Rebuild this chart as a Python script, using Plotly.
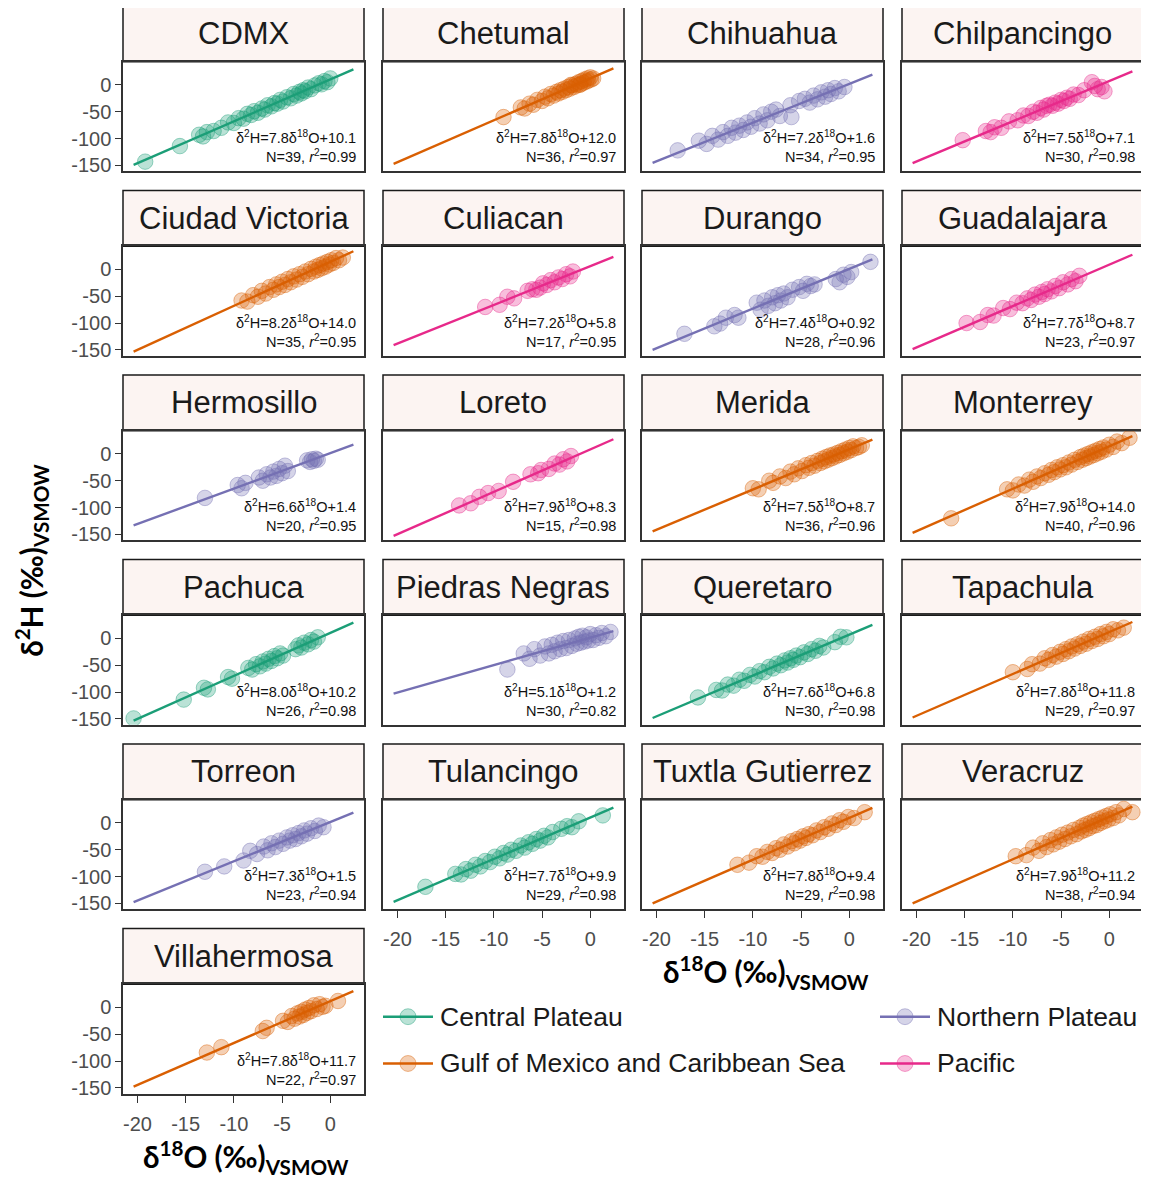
import plotly.graph_objects as go

# ---------------- data ----------------
STATIONS = ["CDMX", "Chetumal", "Chihuahua", "Chilpancingo", "Ciudad Victoria", "Culiacan",
            "Durango", "Guadalajara", "Hermosillo", "Loreto", "Merida", "Monterrey", "Pachuca",
            "Piedras Negras", "Queretaro", "Tapachula", "Torreon", "Tulancingo",
            "Tuxtla Gutierrez", "Veracruz", "Villahermosa"]
REGION = ["Central Plateau", "Gulf of Mexico and Caribbean Sea", "Northern Plateau", "Pacific",
          "Gulf of Mexico and Caribbean Sea", "Pacific", "Northern Plateau", "Pacific",
          "Northern Plateau", "Pacific", "Gulf of Mexico and Caribbean Sea",
          "Gulf of Mexico and Caribbean Sea", "Central Plateau", "Northern Plateau",
          "Central Plateau", "Gulf of Mexico and Caribbean Sea", "Northern Plateau",
          "Central Plateau", "Gulf of Mexico and Caribbean Sea",
          "Gulf of Mexico and Caribbean Sea", "Gulf of Mexico and Caribbean Sea"]
SLOPE = [7.8, 7.8, 7.2, 7.5, 8.2, 7.2, 7.4, 7.7, 6.6, 7.9, 7.5, 7.9, 8.0, 5.1, 7.6, 7.8, 7.3, 7.7, 7.8, 7.9, 7.8]
INTERCEPT = [10.1, 12.0, 1.6, 7.1, 14.0, 5.8, 0.92, 8.7, 1.4, 8.3, 8.7, 14.0, 10.2, 1.2, 6.8, 11.8, 1.5, 9.9, 9.4, 11.2, 11.7]
INTERCEPT_TXT = ["10.1", "12.0", "1.6", "7.1", "14.0", "5.8", "0.92", "8.7", "1.4", "8.3", "8.7",
                 "14.0", "10.2", "1.2", "6.8", "11.8", "1.5", "9.9", "9.4", "11.2", "11.7"]
N_OBS = [39, 36, 34, 30, 35, 17, 28, 23, 20, 15, 36, 40, 26, 30, 30, 29, 23, 29, 29, 38, 22]
R2 = ["0.99", "0.97", "0.95", "0.98", "0.95", "0.95", "0.96", "0.97", "0.95", "0.98", "0.96",
      "0.96", "0.98", "0.82", "0.98", "0.97", "0.94", "0.98", "0.98", "0.94", "0.97"]
FIT_RANGE = [-20.4, 2.4]

CDMX_X = [-19.2, -15.6, -13.6, -13.2, -12.8, -12.1, -11.3, -10.6, -10.0, -9.5, -9.0, -8.6, -8.2, -7.9, -7.5, -7.1, -6.8, -6.5, -6.1, -5.8, -5.5, -5.2, -4.9, -4.5, -4.1, -3.8, -3.5, -3.2, -3.0, -2.8, -2.6, -2.3, -2.0, -1.6, -1.2, -0.9, -0.6, -0.3, 0.0]
CDMX_Y = [-143, -114, -93, -96, -88, -86, -80, -70, -71, -62, -63, -54, -56, -49, -52, -44, -46, -38, -40, -34, -35, -28, -31, -23, -25, -17, -20, -13, -16, -10, -12, -5, -8, -1, 3, 1, 7, 5, 12]
CHETUMAL_X = [-9.0, -7.2, -6.8, -6.3, -5.9, -5.5, -5.0, -4.7, -4.4, -4.1, -3.8, -3.5, -3.3, -3.1, -2.9, -2.7, -2.5, -2.3, -2.1, -1.9, -1.7, -1.5, -1.4, -1.2, -1.0, -0.9, -0.7, -0.6, -0.4, -0.3, -0.2, 0.0, 0.1, 0.3, -2.0, -1.1]
CHETUMAL_Y = [-60, -42, -44, -35, -37, -28, -30, -22, -25, -17, -20, -13, -16, -10, -13, -7, -10, -4, -7, -1, -4, 2, -1, 5, 1, 7, 4, 10, 6, 12, 8, 14, 10, 12, 0, 0]
CHIHUAHUA_X = [-17.8, -15.6, -14.8, -14.2, -13.6, -13.1, -12.6, -12.2, -11.8, -11.4, -11.0, -10.6, -10.2, -9.8, -9.3, -8.9, -8.5, -8.1, -7.6, -7.2, -6.0, -6.1, -5.2, -4.6, -4.1, -3.7, -3.3, -2.9, -2.5, -2.2, -1.9, -1.5, -1.1, -0.5]
CHIHUAHUA_Y = [-122, -104, -110, -95, -102, -88, -95, -80, -89, -76, -84, -70, -78, -62, -72, -55, -66, -50, -46, -58, -60, -38, -30, -26, -33, -20, -27, -14, -22, -10, -17, -6, -12, -4]
CHILPANCINGO_X = [-15.2, -12.8, -12.3, -11.9, -11.2, -10.4, -9.5, -8.9, -8.4, -7.9, -7.5, -7.1, -6.8, -6.5, -6.2, -5.9, -5.6, -5.3, -5.0, -4.7, -4.4, -4.1, -3.7, -3.2, -2.6, -1.8, -1.5, -1.2, -0.8, -0.5]
CHILPANCINGO_Y = [-103, -86, -88, -79, -80, -68, -66, -57, -58, -50, -52, -43, -46, -39, -37, -39, -33, -35, -28, -30, -24, -26, -18, -19, -10, 5, -2, -8, -4, -12]
CDVICTORIA_X = [-9.2, -8.6, -8.0, -7.5, -7.1, -6.7, -6.3, -5.9, -5.6, -5.3, -5.0, -4.7, -4.4, -4.1, -3.8, -3.5, -3.2, -2.9, -2.6, -2.3, -2.0, -1.7, -1.5, -1.3, -1.1, -0.9, -0.7, -0.5, -0.3, -0.1, 0.1, 0.3, 0.6, 0.9, 1.3]
CDVICTORIA_Y = [-58, -60, -48, -51, -40, -45, -33, -38, -28, -33, -23, -29, -18, -24, -13, -19, -9, -14, -4, -9, 1, -4, 5, -1, 8, 2, 11, 5, 14, 9, 17, 12, 21, 17, 22]
CULIACAN_X = [-10.9, -9.4, -8.6, -7.9, -6.5, -6.0, -5.6, -5.2, -4.9, -4.5, -4.1, -3.7, -3.3, -2.9, -2.5, -2.1, -1.8]
CULIACAN_Y = [-70, -66, -51, -54, -40, -37, -38, -34, -26, -29, -20, -24, -15, -18, -9, -13, -4]
DURANGO_X = [-17.1, -14.0, -13.4, -12.8, -11.9, -11.5, -9.6, -9.2, -8.8, -8.4, -8.0, -7.7, -7.4, -7.1, -6.8, -6.4, -5.9, -5.2, -4.8, -4.4, -4.0, -3.6, -1.4, -1.0, -0.6, -0.2, 0.2, 2.2]
DURANGO_Y = [-120, -106, -101, -90, -85, -90, -62, -75, -58, -68, -52, -63, -48, -58, -45, -52, -38, -33, -40, -27, -31, -28, -18, -24, -10, -14, -5, 14]
GUADALAJARA_X = [-14.8, -13.4, -12.6, -12.0, -11.0, -10.3, -9.6, -9.0, -8.5, -8.1, -7.7, -7.3, -7.0, -6.7, -6.4, -6.0, -5.6, -5.2, -4.8, -4.3, -3.9, -3.5, -3.1]
GUADALAJARA_Y = [-100, -98, -85, -86, -72, -74, -62, -63, -54, -57, -47, -51, -42, -46, -37, -41, -31, -35, -24, -28, -18, -22, -12]
HERMOSILLO_X = [-13.0, -9.6, -9.2, -8.8, -7.4, -7.0, -6.6, -6.2, -5.9, -5.6, -5.3, -5.0, -4.7, -4.4, -2.4, -2.1, -1.9, -1.7, -1.5, -1.3]
HERMOSILLO_Y = [-82, -58, -64, -54, -44, -50, -38, -44, -33, -41, -28, -36, -22, -32, -12, -15, -10, -13, -9, -11]
LORETO_X = [-13.6, -12.4, -11.5, -10.6, -9.5, -8.0, -6.2, -5.4, -5.1, -4.3, -3.7, -3.2, -2.8, -2.4, -2.0]
LORETO_Y = [-96, -92, -80, -73, -69, -52, -38, -36, -30, -28, -18, -20, -10, -14, -4]
MERIDA_X = [-10.0, -9.4, -8.3, -7.9, -7.2, -6.6, -6.1, -5.7, -5.3, -4.9, -4.5, -4.2, -3.9, -3.6, -3.3, -3.0, -2.8, -2.6, -2.4, -2.2, -2.0, -1.8, -1.6, -1.4, -1.2, -1.0, -0.8, -0.6, -0.4, -0.2, 0.0, 0.2, 0.4, 0.7, 1.0, 1.3]
MERIDA_Y = [-64, -66, -50, -54, -42, -45, -33, -38, -27, -32, -21, -26, -17, -22, -13, -17, -9, -14, -6, -11, -3, -8, -1, -5, 2, -2, 5, 1, 8, 4, 11, 7, 14, 11, 13, 16]
MONTERREY_X = [-16.4, -10.6, -10.0, -9.4, -8.8, -8.3, -7.9, -7.5, -7.1, -6.7, -6.3, -6.0, -5.7, -5.4, -5.1, -4.8, -4.5, -4.2, -3.9, -3.6, -3.3, -3.0, -2.8, -2.6, -2.4, -2.2, -2.0, -1.8, -1.6, -1.4, -1.2, -1.0, -0.8, -0.6, -0.3, 0.0, 0.4, 0.8, 1.3, 2.1]
MONTERREY_Y = [-120, -66, -68, -57, -59, -48, -52, -42, -45, -36, -39, -30, -34, -25, -29, -21, -25, -16, -20, -11, -15, -6, -11, -3, -8, 0, -5, 3, -2, 6, 1, 9, 4, 12, 8, 17, 13, 23, 20, 30]
PACHUCA_X = [-20.4, -15.2, -13.1, -12.7, -10.6, -10.2, -8.5, -8.1, -7.7, -7.3, -7.0, -6.7, -6.4, -6.1, -5.8, -5.5, -5.2, -4.9, -3.6, -3.3, -3.0, -2.7, -2.3, -2.0, -1.7, -1.3]
PACHUCA_Y = [-149, -114, -92, -95, -72, -75, -55, -58, -48, -52, -43, -47, -38, -42, -33, -37, -28, -32, -20, -13, -17, -8, -11, -3, -6, 2]
PIEDRAS_X = [-8.6, -6.9, -6.3, -5.8, -5.2, -4.7, -4.3, -4.0, -3.7, -3.4, -3.1, -2.8, -2.5, -2.2, -1.9, -1.6, -1.4, -1.2, -1.0, -0.8, -0.6, -0.4, -0.2, 0.0, 0.3, 0.6, 0.9, 1.2, 1.6, 2.1]
PIEDRAS_Y = [-58, -28, -38, -20, -32, -15, -28, -12, -24, -8, -20, -5, -18, -3, -14, 0, -10, 3, -8, 5, -6, 2, -4, 8, -3, 6, 1, 10, 4, 12]
QUERETARO_X = [-15.7, -13.8, -13.2, -12.6, -12.0, -11.4, -10.9, -10.3, -9.8, -9.3, -8.8, -8.3, -7.9, -7.5, -7.1, -6.7, -6.4, -6.1, -5.8, -5.5, -5.1, -4.7, -4.3, -3.9, -3.5, -3.1, -2.7, -1.5, -0.9, -0.3]
QUERETARO_Y = [-110, -96, -97, -86, -88, -77, -79, -68, -71, -61, -63, -53, -56, -47, -50, -41, -45, -37, -40, -32, -35, -26, -29, -20, -23, -14, -17, -7, 3, 2]
TAPACHULA_X = [-10.0, -8.5, -8.0, -7.2, -6.7, -6.3, -5.9, -5.5, -5.1, -4.8, -4.5, -4.2, -3.9, -3.6, -3.3, -3.0, -2.7, -2.4, -2.1, -1.8, -1.5, -1.2, -0.9, -0.6, -0.3, 0.0, 0.4, 0.9, 1.5]
TAPACHULA_Y = [-63, -57, -48, -47, -37, -40, -31, -34, -25, -29, -20, -24, -15, -19, -11, -14, -6, -10, -1, -5, 3, -1, 8, 4, 12, 8, 17, 15, 20]
TORREON_X = [-13.0, -11.0, -9.0, -8.3, -7.6, -6.9, -6.5, -6.1, -5.7, -5.3, -4.9, -4.5, -4.2, -3.9, -3.6, -3.3, -3.0, -2.7, -2.4, -2.0, -1.6, -1.2, -0.7]
TORREON_Y = [-91, -81, -70, -52, -58, -44, -51, -38, -45, -33, -39, -27, -33, -23, -30, -19, -25, -14, -20, -10, -15, -5, -8]
TULANCINGO_X = [-17.1, -14.0, -13.4, -12.9, -12.4, -11.9, -11.4, -10.9, -10.4, -9.9, -9.4, -9.0, -8.6, -8.2, -7.7, -7.2, -6.8, -6.4, -6.0, -5.6, -5.2, -4.8, -4.4, -3.9, -3.0, -2.4, -1.9, -1.2, 1.3]
TULANCINGO_Y = [-119, -95, -96, -86, -89, -78, -81, -71, -73, -63, -66, -56, -59, -50, -52, -42, -46, -36, -39, -30, -33, -24, -27, -17, -11, -6, -8, 3, 14]
TUXTLA_X = [-11.6, -10.4, -9.6, -9.0, -8.5, -8.0, -7.6, -7.2, -6.8, -6.4, -6.0, -5.7, -5.4, -5.1, -4.8, -4.5, -4.2, -3.8, -3.4, -3.0, -2.6, -2.2, -1.8, -1.4, -1.0, -0.6, -0.1, 0.5, 1.6]
TUXTLA_Y = [-78, -74, -62, -63, -54, -56, -47, -50, -40, -44, -34, -38, -30, -33, -25, -28, -21, -23, -14, -17, -8, -11, -1, -4, 5, 2, 11, 9, 20]
VERACRUZ_X = [-9.7, -8.6, -7.9, -7.3, -6.9, -6.5, -6.1, -5.8, -5.5, -5.2, -4.9, -4.6, -4.3, -4.0, -3.7, -3.4, -3.1, -2.9, -2.7, -2.5, -2.3, -2.1, -1.9, -1.7, -1.5, -1.3, -1.1, -0.9, -0.7, -0.5, -0.3, -0.1, 0.1, 0.4, 0.7, 1.0, 1.5, 2.4]
VERACRUZ_Y = [-62, -60, -46, -52, -38, -45, -32, -40, -27, -35, -22, -30, -18, -25, -13, -21, -9, -16, -5, -13, -2, -10, 1, -6, 4, -4, 7, 0, 10, 3, 13, 6, 16, 9, 20, 14, 26, 20]
VILLAHERMOSA_X = [-12.8, -11.3, -7.0, -6.6, -4.9, -4.4, -4.0, -3.7, -3.4, -3.2, -3.0, -2.8, -2.6, -2.4, -2.2, -2.0, -1.7, -1.4, -1.1, -0.8, -0.5, 0.8]
VILLAHERMOSA_Y = [-84, -74, -44, -38, -25, -27, -16, -21, -11, -17, -8, -14, -4, -10, -1, -7, 4, -3, 6, 1, 3, 12]

X_DATA = [CDMX_X, CHETUMAL_X, CHIHUAHUA_X, CHILPANCINGO_X, CDVICTORIA_X, CULIACAN_X, DURANGO_X,
          GUADALAJARA_X, HERMOSILLO_X, LORETO_X, MERIDA_X, MONTERREY_X, PACHUCA_X, PIEDRAS_X,
          QUERETARO_X, TAPACHULA_X, TORREON_X, TULANCINGO_X, TUXTLA_X, VERACRUZ_X, VILLAHERMOSA_X]
Y_DATA = [CDMX_Y, CHETUMAL_Y, CHIHUAHUA_Y, CHILPANCINGO_Y, CDVICTORIA_Y, CULIACAN_Y, DURANGO_Y,
          GUADALAJARA_Y, HERMOSILLO_Y, LORETO_Y, MERIDA_Y, MONTERREY_Y, PACHUCA_Y, PIEDRAS_Y,
          QUERETARO_Y, TAPACHULA_Y, TORREON_Y, TULANCINGO_Y, TUXTLA_Y, VERACRUZ_Y, VILLAHERMOSA_Y]

REGIONS = ["Central Plateau", "Gulf of Mexico and Caribbean Sea", "Northern Plateau", "Pacific"]
REGION_COLORS = ["#1B9E77", "#D95F02", "#7570B3", "#E7298A"]
X_TICKS = [-20, -15, -10, -5, 0]
X_TICKTEXT = ["-20", "-15", "-10", "-5", "0"]
Y_TICKS = [0, -50, -100, -150]
Y_TICKTEXT = ["0", "-50", "-100", "-150"]

# ---------------- layout geometry (screen pixels of the 1149x1183 page) ----------------
PAGE_OFFSET = 8            # default body margin of the html page
W, H = 1149 - PAGE_OFFSET, 1183 - PAGE_OFFSET
COL_LEFT = [123, 383, 642, 902]
PANEL_W = 241
ROW_TOP = [62 + 185.3 * r for r in range(6)]
PANEL_H = 110
STRIP_H = 56
X_RANGE = [-21.5, 3.5]
Y_RANGE = [-161, 43]


def px(x):
    return (x - PAGE_OFFSET) / W


def py(y):
    return 1 - (y - PAGE_OFFSET) / H


def rgba(hexc, a):
    h = hexc.lstrip("#")
    return "rgba(%d,%d,%d,%s)" % (int(h[0:2], 16), int(h[2:4], 16), int(h[4:6], 16), a)


color_of = dict(zip(REGIONS, REGION_COLORS))
TEXT_FONT = "Liberation Sans, Arial, sans-serif"

fig = go.Figure()
shapes = []
annotations = []
layout_axes = {}
bottom_ticks = {"Tulancingo", "Tuxtla Gutierrez", "Veracruz", "Villahermosa"}

for i, name in enumerate(STATIONS):
    r, c = divmod(i, 4)
    k = i + 1
    xa = "x" if k == 1 else "x%d" % k
    ya = "y" if k == 1 else "y%d" % k
    col = color_of[REGION[i]]
    left, top = COL_LEFT[c], ROW_TOP[r]
    right, bottom = left + PANEL_W, top + PANEL_H

    fx = FIT_RANGE
    fy = [SLOPE[i] * v + INTERCEPT[i] for v in fx]
    fig.add_trace(go.Scatter(x=X_DATA[i], y=Y_DATA[i], mode="markers", xaxis=xa, yaxis=ya,
                             marker=dict(size=15.5, color=rgba(col, 0.3),
                                         line=dict(color=rgba(col, 0.42), width=1)),
                             showlegend=False, hoverinfo="skip"))
    fig.add_trace(go.Scatter(x=fx, y=fy, mode="lines", xaxis=xa, yaxis=ya,
                             line=dict(color=col, width=2.4), showlegend=False, hoverinfo="skip"))

    show_y = c == 0
    show_x = name in bottom_ticks
    layout_axes["xaxis" if k == 1 else "xaxis%d" % k] = dict(
        domain=[px(left), px(right)], anchor=ya, range=X_RANGE, showgrid=False, zeroline=False,
        showline=True, mirror=True, linecolor="#333333", linewidth=1.5,
        ticks="outside" if show_x else "", ticklen=7, tickwidth=1.3, tickcolor="#333333",
        ticklabelstandoff=4,
        tickvals=X_TICKS, ticktext=X_TICKTEXT, showticklabels=show_x,
        tickfont=dict(size=20, color="#4D4D4D", family=TEXT_FONT), fixedrange=True)
    layout_axes["yaxis" if k == 1 else "yaxis%d" % k] = dict(
        domain=[py(bottom), py(top)], anchor=xa, range=Y_RANGE, showgrid=False, zeroline=False,
        showline=True, mirror=True, linecolor="#333333", linewidth=1.5,
        ticks="outside" if show_y else "", ticklen=6, tickwidth=1.3, tickcolor="#333333",
        tickvals=Y_TICKS, ticktext=Y_TICKTEXT, showticklabels=show_y,
        tickfont=dict(size=20, color="#4D4D4D", family=TEXT_FONT), fixedrange=True)

    # strip
    shapes.append(dict(type="rect", xref="paper", yref="paper", x0=px(left), x1=px(right),
                       y0=py(top), y1=py(top - STRIP_H), fillcolor="#FCF4F2",
                       line=dict(color="#1a1a1a", width=1.5), layer="below"))
    annotations.append(dict(xref="paper", yref="paper", x=px((left + right) / 2),
                            y=py(top - STRIP_H / 2), text=name, showarrow=False,
                            font=dict(size=31, color="#1a1a1a", family=TEXT_FONT),
                            xanchor="center", yanchor="middle"))
    eq = "δ<sup>2</sup>H=%.1fδ<sup>18</sup>O+%s" % (SLOPE[i], INTERCEPT_TXT[i])
    annotations.append(dict(xref="paper", yref="paper", x=px(right - 6), y=py(top + 76),
                            text=eq, showarrow=False, xanchor="right", yanchor="middle",
                            font=dict(size=14.5, color="#111111", family=TEXT_FONT)))
    annotations.append(dict(xref="paper", yref="paper", x=px(right - 6), y=py(top + 95),
                            text="N=%d, <i>r</i><sup>2</sup>=%s" % (N_OBS[i], R2[i]),
                            showarrow=False, xanchor="right", yanchor="middle",
                            font=dict(size=14.5, color="#111111", family=TEXT_FONT)))

# axis titles
TITLE_FONT = "Lato, Open Sans, sans-serif"
annotations.append(dict(xref="paper", yref="paper", x=px(32), y=py(563), textangle=-90,
                        text="<b>δ<sup>2</sup>H (‰)<sub>VSMOW</sub></b>", showarrow=False,
                        xanchor="center", yanchor="middle",
                        font=dict(size=29.5, color="black", family=TITLE_FONT)))
for cx, cy in [(766, 977), (246, 1162)]:
    annotations.append(dict(xref="paper", yref="paper", x=px(cx), y=py(cy),
                            text="<b>δ<sup>18</sup>O (‰)<sub>VSMOW</sub></b>", showarrow=False,
                            xanchor="center", yanchor="middle",
                            font=dict(size=29.5, color="black", family=TITLE_FONT)))

# legend (manual, 2 columns)
LEG_POS = [(383, 1021), (383, 1068), (880, 1021), (880, 1068)]
for (lx, ly), reg, col in zip(LEG_POS, REGIONS, REGION_COLORS):
    shapes.append(dict(type="line", xref="paper", yref="paper", x0=px(lx), x1=px(lx + 50),
                       y0=py(ly), y1=py(ly), line=dict(color=col, width=2.4)))
    rr = 8
    shapes.append(dict(type="circle", xref="paper", yref="paper",
                       x0=px(lx + 25 - rr), x1=px(lx + 25 + rr), y0=py(ly + rr), y1=py(ly - rr),
                       fillcolor=rgba(col, 0.3), line=dict(color=rgba(col, 0.42), width=1)))
    annotations.append(dict(xref="paper", yref="paper", x=px(lx + 55), y=py(ly), text=reg,
                            showarrow=False, xanchor="left", yanchor="middle",
                            font=dict(size=26.5, color="#1a1a1a", family=TEXT_FONT)))

fig.update_layout(width=W, height=H, margin=dict(l=0, r=0, t=0, b=0),
                  paper_bgcolor="white", plot_bgcolor="white", showlegend=False,
                  shapes=shapes, annotations=annotations, **layout_axes)

fig.write_html("out.html")
